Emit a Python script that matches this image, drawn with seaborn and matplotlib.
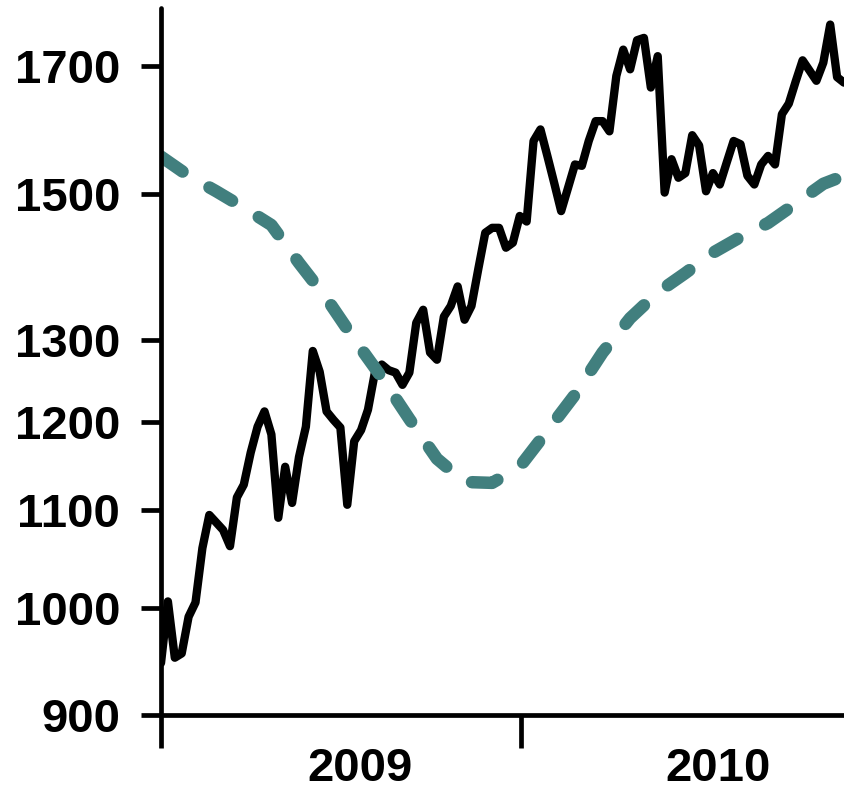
# %% libraries _____________________________________________________________________
import numpy as np
import pandas as pd
import seaborn as sns
import matplotlib.pyplot as plt
import matplotlib.dates as mdates
from matplotlib.ticker import FixedLocator, NullLocator

# %% data _____________________________________________________________________
start_date = "2009-01-01"
weekly_close = [947, 1006, 952, 956, 991, 1005, 1060, 1095, 1087, 1079,
                1062, 1114, 1128, 1164, 1194, 1212, 1185, 1092, 1148, 1108,
                1159, 1194, 1286, 1260, 1212, 1202, 1193, 1106, 1177, 1190,
                1214, 1259, 1269, 1262, 1259, 1244, 1259, 1322, 1339, 1284,
                1275, 1330, 1344, 1370, 1326, 1344, 1394, 1444, 1451, 1451,
                1423, 1430, 1468, 1460, 1580, 1598, 1557, 1516, 1475, 1509,
                1544, 1542, 1580, 1611, 1611, 1595, 1684, 1728, 1695, 1744,
                1748, 1665, 1717, 1502, 1552, 1524, 1531, 1589, 1573, 1504,
                1531, 1514, 1547, 1580, 1575, 1527, 1514, 1544, 1557, 1544,
                1622, 1639, 1675, 1710, 1693, 1676, 1706, 1771, 1682, 1673]
trend_weeks = [0, 4, 8, 12, 16, 20, 24, 28, 32, 36, 40, 44, 48,
               52, 56, 60, 64, 68, 72, 76, 80, 84, 88, 92, 96, 99]
trend_values = [1556, 1527, 1504, 1480, 1455, 1402, 1354, 1301, 1253, 1203, 1157, 1131, 1130,
                1148, 1189, 1232, 1284, 1328, 1362, 1388, 1416, 1438, 1458, 1486, 1515, 1527]
year_starts = ["2009-01-01", "2010-01-01"]
year_label_dates = ["2009-07-22", "2010-07-20"]
year_labels = ["2009", "2010"]
y_ticks = [900, 1000, 1100, 1200, 1300, 1500, 1700]

t0 = pd.Timestamp(start_date)
close_df = pd.DataFrame({
    "date": pd.date_range(start_date, periods=len(weekly_close), freq="7D"),
    "close": weekly_close,
})
trend_df = pd.DataFrame({
    "date": t0 + pd.to_timedelta(np.array(trend_weeks) * 7, unit="D"),
    "trend": trend_values,
})

# %% plot _____________________________________________________________________
sns.set_theme(style="white")
plt.rcParams["font.family"] = ["Liberation Sans", "DejaVu Sans"]
plt.rcParams["font.weight"] = "bold"
plt.rcParams["text.color"] = "black"

fig = plt.figure(figsize=(8.44, 7.94), dpi=100)
ax = fig.add_axes([161 / 844, 1 - 715 / 794, (844 - 161) / 844, (715 - 8) / 794])

sns.lineplot(data=close_df, x="date", y="close", color="black", lw=6, ax=ax)
sns.lineplot(data=trend_df, x="date", y="trend", color="#417F7E", lw=9, ax=ax)
trend_line = ax.lines[-1]
trend_line.set_dashes([2.1, 2.5])
trend_line.set_dash_capstyle("round")

ax.set_yscale("log")
ax.set_ylim(900, 1800)
ax.set_xlim(mdates.date2num(t0), mdates.date2num(pd.Timestamp("2010-11-25")))
ax.yaxis.set_major_locator(FixedLocator(y_ticks))
ax.yaxis.set_minor_locator(NullLocator())
ax.set_yticklabels([str(v) for v in y_ticks])

ax.set_xticks([mdates.date2num(pd.Timestamp(d)) for d in year_starts])
ax.set_xticklabels([])
ax.set_xticks([mdates.date2num(pd.Timestamp(d)) for d in year_label_dates], minor=True)
ax.set_xticklabels(year_labels, minor=True)

ax.set_xlabel("")
ax.set_ylabel("")
sns.despine(ax=ax)
for side in ["left", "bottom"]:
    ax.spines[side].set_linewidth(3.4)
    ax.spines[side].set_color("black")
    ax.spines[side].set_capstyle("round")

ax.tick_params(axis="y", which="major", direction="out", length=14.4, width=3.4,
               pad=15, labelsize=34, color="black", labelcolor="black", left=True)
ax.tick_params(axis="x", which="major", direction="out", length=23.8, width=3.4,
               color="black", bottom=True)
ax.tick_params(axis="x", which="minor", length=0, pad=23, labelsize=34,
               labelcolor="black", bottom=True)

fig.savefig("out.png", dpi=100)
